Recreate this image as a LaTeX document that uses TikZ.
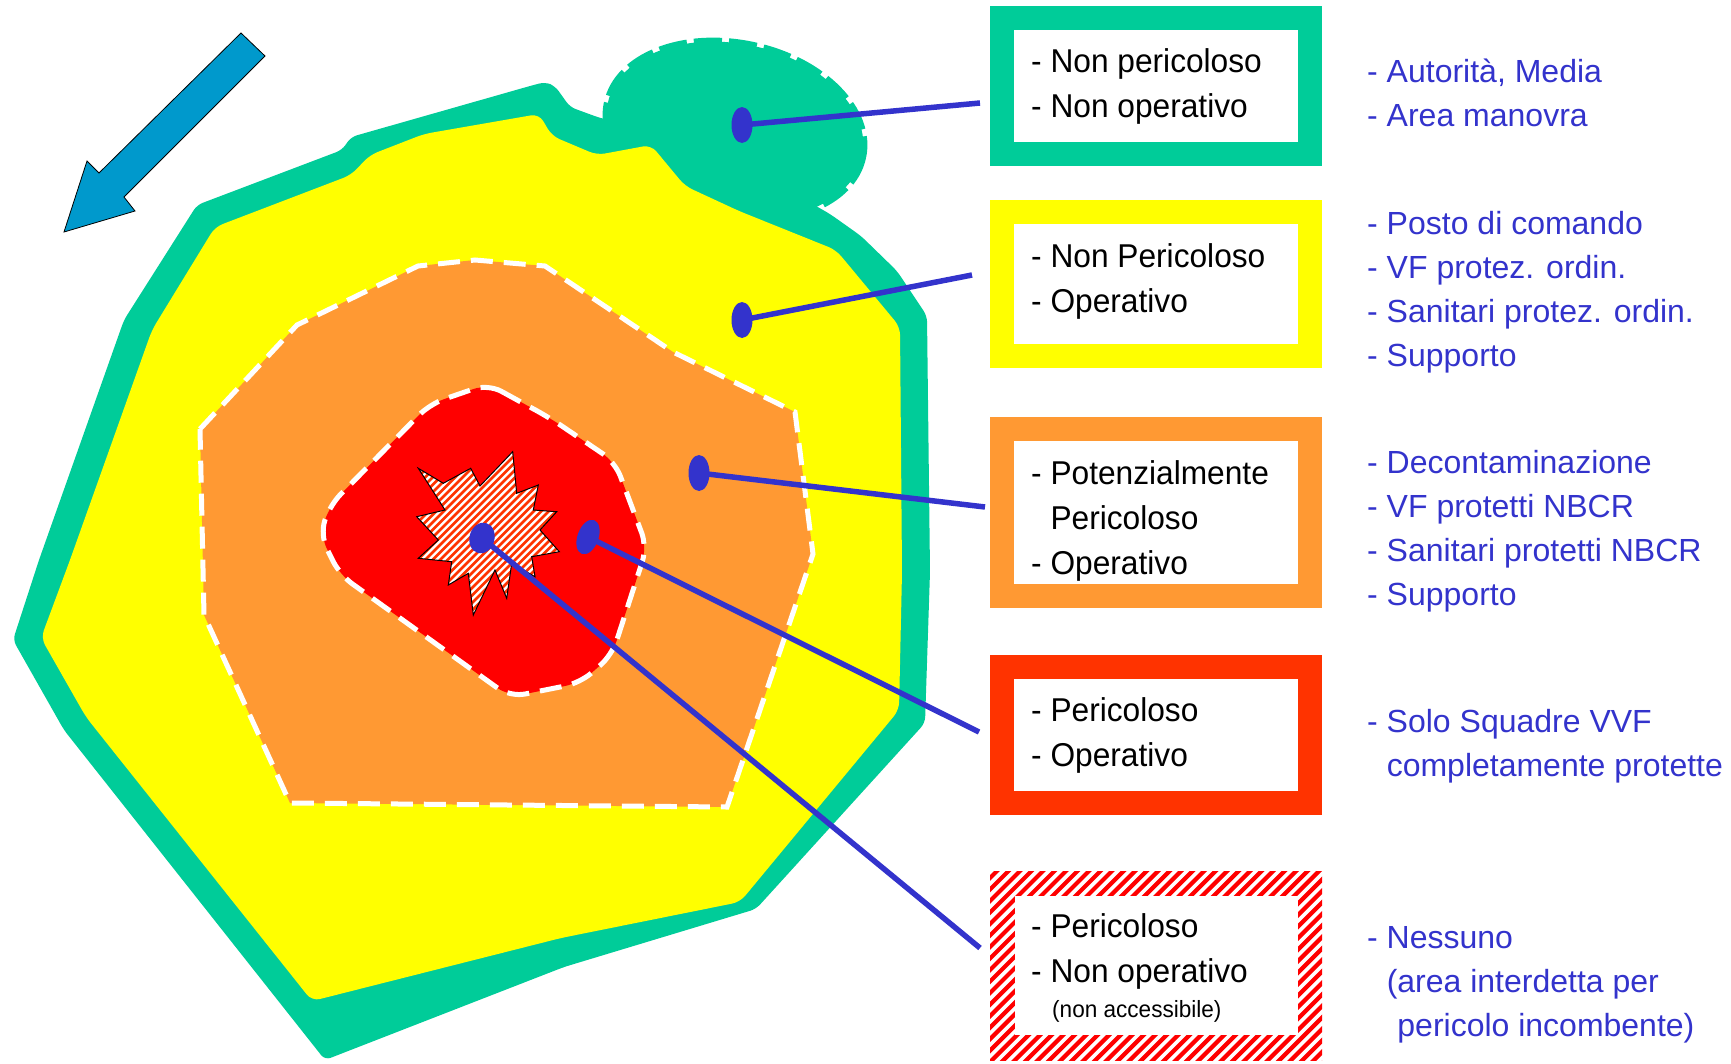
\documentclass[tikz,border=0pt]{standalone}
\usepackage{fontspec}
\setmainfont{Liberation Sans}
\newfontfamily\boxfont[FakeStretch=0.96]{Liberation Sans}
\usetikzlibrary{shapes.geometric}
\definecolor{tealz}{HTML}{00CC99}
\definecolor{yellowz}{HTML}{FFFF00}
\definecolor{orangez}{HTML}{FF9933}
\definecolor{redz}{HTML}{FF0000}
\definecolor{redbox}{HTML}{FF3300}
\definecolor{bluez}{HTML}{3333CC}
\definecolor{arrowz}{HTML}{0099CC}
\begin{document}
\begin{tikzpicture}[x=1pt,y=-1pt,
  zbox/.style={rectangle, inner sep=0pt, outer sep=0pt, line width=24pt, minimum width=308pt, minimum height=#1, fill=white},
  dot/.style={ellipse, fill=bluez, inner sep=0pt, minimum width=21pt, minimum height=36pt},
  conn/.style={draw=bluez, line width=5.5pt},
  btxt/.style={anchor=base west, inner sep=0pt, font=\boxfont\fontsize{33}{45}\selectfont},
  rtxt/.style={anchor=base west, inner sep=0pt, text=bluez, font=\fontsize{32}{44}\selectfont},
  zone/.style={draw=white, line width=5pt, dash pattern=on 22pt off 11pt}]
\useasboundingbox (0,0) rectangle (1731,1063);

% wind arrow
\filldraw[fill=arrowz, draw=black, line width=0.8pt, line join=miter]
  (241,33) -- (265,56) -- (124,197) -- (135,211) -- (64,232) -- (87,161) -- (99,173) -- cycle;

% outer teal band
\fill[tealz, rounded corners=6pt]
  (13,640) -- (39,560) -- (124,320) -- (197,205) -- (342,150) -- (351,137) -- (530,86) -- (545,82)
  -- (555,86) -- (570,107) -- (600,118) -- (700,140) -- (830,214) -- (861,236) -- (897,271)
  -- (927,316) -- (930,572) -- (925,723) -- (756,909) -- (564,967) -- (325,1060) -- (64,730) -- cycle;

% maneuvre area (dashed ellipse)
\fill[tealz, rotate around={-12:(735,130)}] (735,130) ellipse [x radius=130, y radius=86];
\draw[tealz, line width=8pt, dash pattern=on 28pt off 7pt, rotate around={-12:(735,130)}] (735,130) ellipse [x radius=130, y radius=86];

% yellow zone
\fill[yellowz, rounded corners=8pt]
  (41,638) -- (70,560) -- (152,330) -- (215,227) -- (351,175) -- (370,155) -- (424,134) -- (539,114)
  -- (552,136) -- (597,155) -- (651,145) -- (685,186) -- (739,211) -- (836,250) -- (900,327)
  -- (902,572) -- (899,710) -- (740,902) -- (561,938) -- (312,1001) -- (86,717) -- cycle;

% orange zone
\filldraw[fill=orangez, zone]
  (200,429) -- (297,325) -- (418,266) -- (475,260) -- (545,266) -- (673,352) -- (795,412)
  -- (813,554) -- (727,807) -- (290,803) -- (204,615) -- cycle;

% red zone
\filldraw[fill=redz, zone, rounded corners=15pt]
  (488,384) -- (550,418) -- (615,462) -- (647,547) -- (612,655) -- (580,683) -- (510,697)
  -- (340,575) -- (320,535) -- (330,505) -- (430,404) -- cycle;

% explosion
\begin{scope}
  \clip (418.3,468.3) -- (443.3,483.3) -- (470.7,468.3) -- (480,486) -- (512.7,451.7) -- (516.7,493.3)
    -- (538.3,485) -- (533.3,510) -- (556.7,511.7) -- (540,530) -- (559.3,551.7) -- (531.7,556.7)
    -- (535,576.7) -- (511.7,563.3) -- (506.7,598.3) -- (495,570) -- (473.3,615) -- (468.3,573.3)
    -- (448.3,585) -- (451.7,561.7) -- (418.3,558.3) -- (438.3,540) -- (416.7,516.7) -- (445,510) -- cycle;
  \fill[white] (400,440) rectangle (570,630);
  \foreach \i in {180,187.5,...,620} \draw[redbox, line width=2.8pt] (\i,640) -- ++(220,-220);
\end{scope}
\draw[black, line width=1pt, line join=miter]
  (418.3,468.3) -- (443.3,483.3) -- (470.7,468.3) -- (480,486) -- (512.7,451.7) -- (516.7,493.3)
    -- (538.3,485) -- (533.3,510) -- (556.7,511.7) -- (540,530) -- (559.3,551.7) -- (531.7,556.7)
    -- (535,576.7) -- (511.7,563.3) -- (506.7,598.3) -- (495,570) -- (473.3,615) -- (468.3,573.3)
    -- (448.3,585) -- (451.7,561.7) -- (418.3,558.3) -- (438.3,540) -- (416.7,516.7) -- (445,510) -- cycle;

% legend boxes
\node[zbox=136pt, draw=tealz] (b1) at (1156,86) {};
\node[zbox=144pt, draw=yellowz] (b2) at (1156,284) {};
\node[zbox=167pt, draw=orangez] (b3) at (1156,512.5) {};
\node[zbox=136pt, draw=redbox] (b4) at (1156,735) {};
\node[rectangle, inner sep=0pt, outer sep=0pt, minimum width=332pt, minimum height=189pt] (b5) at (1156,965.5) {};
\begin{scope}
  \clip (b5.south west) rectangle (b5.north east);
  \fill[white] (b5.south west) rectangle (b5.north east);
  \foreach \i in {770,781.5,...,1340} \draw[redz, line width=4.2pt] (\i,1075) -- ++(230,-230);
\end{scope}
\fill[white] (1014.5,896) rectangle (1297.5,1035);

% connector end points
\coordinate (e1) at (980,103);
\coordinate (e2) at (972,275);
\coordinate (e3) at (985,507);
\coordinate (e4) at (979,732);
\coordinate (e5) at (980,948);

% dots
\node[dot] (d1) at (742,125) {};
\node[dot] (d2) at (742,320) {};
\node[dot] (d3) at (699,473) {};
\node[dot, rotate=-20] (d4) at (588,537) {};
\node[dot, minimum width=25pt, minimum height=31pt, rotate=-15] (d5) at (482,538) {};

% connectors
\draw[conn] (d1.center) -- (e1);
\draw[conn] (d2.center) -- (e2);
\draw[conn] (d3.center) -- (e3);
\draw[conn] (d4.center) -- (e4);
\draw[conn] (d5.center) -- (e5);

% box texts
\node[btxt] (t1) at (1031,72) {\begin{tabular}[t]{@{}l@{}}- Non pericoloso\\- Non operativo\end{tabular}};
\node[btxt] (t2) at (1031,267) {\begin{tabular}[t]{@{}l@{}}- Non Pericoloso\\- Operativo\end{tabular}};
\node[btxt] (t3) at (1031,484) {\begin{tabular}[t]{@{}l@{}}- Potenzialmente\\\phantom{- }Pericoloso\\- Operativo\end{tabular}};
\node[btxt] (t4) at (1031,721) {\begin{tabular}[t]{@{}l@{}}- Pericoloso\\- Operativo\end{tabular}};
\node[btxt] (t5) at (1031,937.5) {\begin{tabular}[t]{@{}l@{}}- Pericoloso\\- Non operativo\end{tabular}};
\node[anchor=base west, inner sep=0pt, font=\boxfont\fontsize{23.5}{28}\selectfont] (t5b) at (1052,1017) {(non accessibile)};

% right-hand texts
\node[rtxt] (r1) at (1367,82) {\begin{tabular}[t]{@{}l@{}}- Autorità, Media\\- Area manovra\end{tabular}};
\node[rtxt] (r2) at (1367,234) {\begin{tabular}[t]{@{}l@{}}- Posto di comando\\- VF protez. ordin.\\- Sanitari protez. ordin.\\- Supporto\end{tabular}};
\node[rtxt] (r3) at (1367,473) {\begin{tabular}[t]{@{}l@{}}- Decontaminazione\\- VF protetti NBCR\\- Sanitari protetti NBCR\\- Supporto\end{tabular}};
\node[rtxt] (r4) at (1367,732) {\begin{tabular}[t]{@{}l@{}}- Solo Squadre VVF\\\phantom{- }completamente protette\end{tabular}};
\node[rtxt] (r5) at (1367,948) {\begin{tabular}[t]{@{}l@{}}- Nessuno\\\phantom{- }(area interdetta per\\\phantom{- (}pericolo incombente)\end{tabular}};
\end{tikzpicture}
\end{document}
